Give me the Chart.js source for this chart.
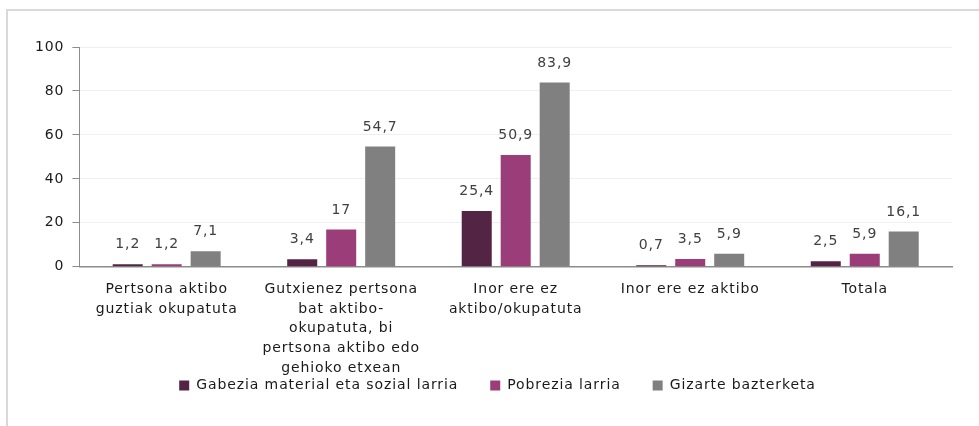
<!DOCTYPE html>
<html><head><meta charset="utf-8">
<script src="https://cdn.jsdelivr.net/npm/chart.js@4/dist/chart.umd.min.js"></script>
<style>
html,body{margin:0;padding:0;background:#fff;overflow:hidden;width:979px;height:426px;}
#frame{position:fixed;left:6px;top:9px;width:1100px;height:600px;border-top:2px solid #d9d9d9;border-left:2px solid #d9d9d9;}
#c{position:fixed;left:0;top:0;}
</style></head>
<body>
<div id="frame"></div>
<canvas id="c" width="979" height="426"></canvas>
<script>
const categories = [
  ["Pertsona aktibo", "guztiak okupatuta"],
  ["Gutxienez pertsona", "bat aktibo-", "okupatuta, bi", "pertsona aktibo edo", "gehioko etxean"],
  ["Inor ere ez", "aktibo/okupatuta"],
  ["Inor ere ez aktibo"],
  ["Totala"]
];
const seriesNames = ["Gabezia material eta sozial larria", "Pobrezia larria", "Gizarte bazterketa"];
const gabezia = [1.2, 3.4, 25.4, 0.7, 2.5];
const pobrezia = [1.2, 17, 50.9, 3.5, 5.9];
const bazterketa = [7.1, 54.7, 83.9, 5.9, 16.1];
const yTicks = [0, 20, 40, 60, 80, 100];
const colors = ["#532443", "#9b3d78", "#808080"];

const FONT = "'DejaVu Sans', Verdana, sans-serif";
const FS = 14;
const LS = '0.9px';

const spacing = {
  id: 'spacing',
  beforeUpdate(chart) { chart.ctx.letterSpacing = LS; },
  beforeLayout(chart) { chart.ctx.letterSpacing = LS; },
  afterLayout(chart) { if (chart.legend) { chart.legend.left += 8; chart.legend.right += 8; } },
  beforeDraw(chart) { chart.ctx.letterSpacing = LS; }
};

const valueLabels = {
  id: 'valueLabels',
  afterDatasetsDraw(chart) {
    const ctx = chart.ctx;
    ctx.save();
    ctx.letterSpacing = LS;
    ctx.font = FS + "px " + FONT;
    ctx.fillStyle = "#404040";
    ctx.textAlign = "center";
    ctx.textBaseline = "middle";
    chart.data.datasets.forEach((ds, i) => {
      chart.getDatasetMeta(i).data.forEach((bar, j) => {
        const txt = String(ds.data[j]).replace('.', ',');
        ctx.fillText(txt, bar.x, bar.y - 19.5);
      });
    });
    ctx.restore();
  }
};

const seriesData = [gabezia, pobrezia, bazterketa];
new Chart(document.getElementById('c'), {
  type: 'bar',
  data: {
    labels: categories,
    datasets: seriesNames.map((n, i) => ({
      label: n,
      data: seriesData[i],
      backgroundColor: colors[i],
      borderWidth: 0,
      categoryPercentage: 0.67,
      barPercentage: 0.77
    }))
  },
  options: {
    responsive: false,
    animation: false,
    devicePixelRatio: 1,
    layout: { padding: { left: 27, right: 27, top: 47, bottom: 23.6 } },
    plugins: {
      tooltip: { enabled: false },
      legend: {
        position: 'bottom',
        labels: {
          font: { family: FONT, size: FS },
          color: '#1a1a1a',
          boxWidth: 10,
          boxHeight: 10,
          padding: 32
        }
      }
    },
    scales: {
      x: {
        grid: { display: false, drawTicks: false },
        border: { display: true, color: '#8c8c8c', width: 1.5 },
        ticks: {
          font: { family: FONT, size: FS, lineHeight: 1.4 },
          color: '#1a1a1a',
          padding: 13,
          maxRotation: 0,
          autoSkip: false
        },
        afterFit(scale) {
          scale.height = 79.6;
          scale._computeLabelArea = () => undefined;
        }
      },
      y: {
        min: 0, max: 100,
        afterBuildTicks(scale) { scale.ticks = yTicks.map(v => ({ value: v })); },
        grid: { color: '#efefef', lineWidth: 1, tickColor: '#8c8c8c', tickLength: 7, drawTicks: true },
        border: { display: true, color: '#8c8c8c', width: 1 },
        ticks: {
          font: { family: FONT, size: FS },
          color: '#1a1a1a',
          padding: 8
        }
      }
    }
  },
  plugins: [spacing, valueLabels]
});
</script>
</body></html>
